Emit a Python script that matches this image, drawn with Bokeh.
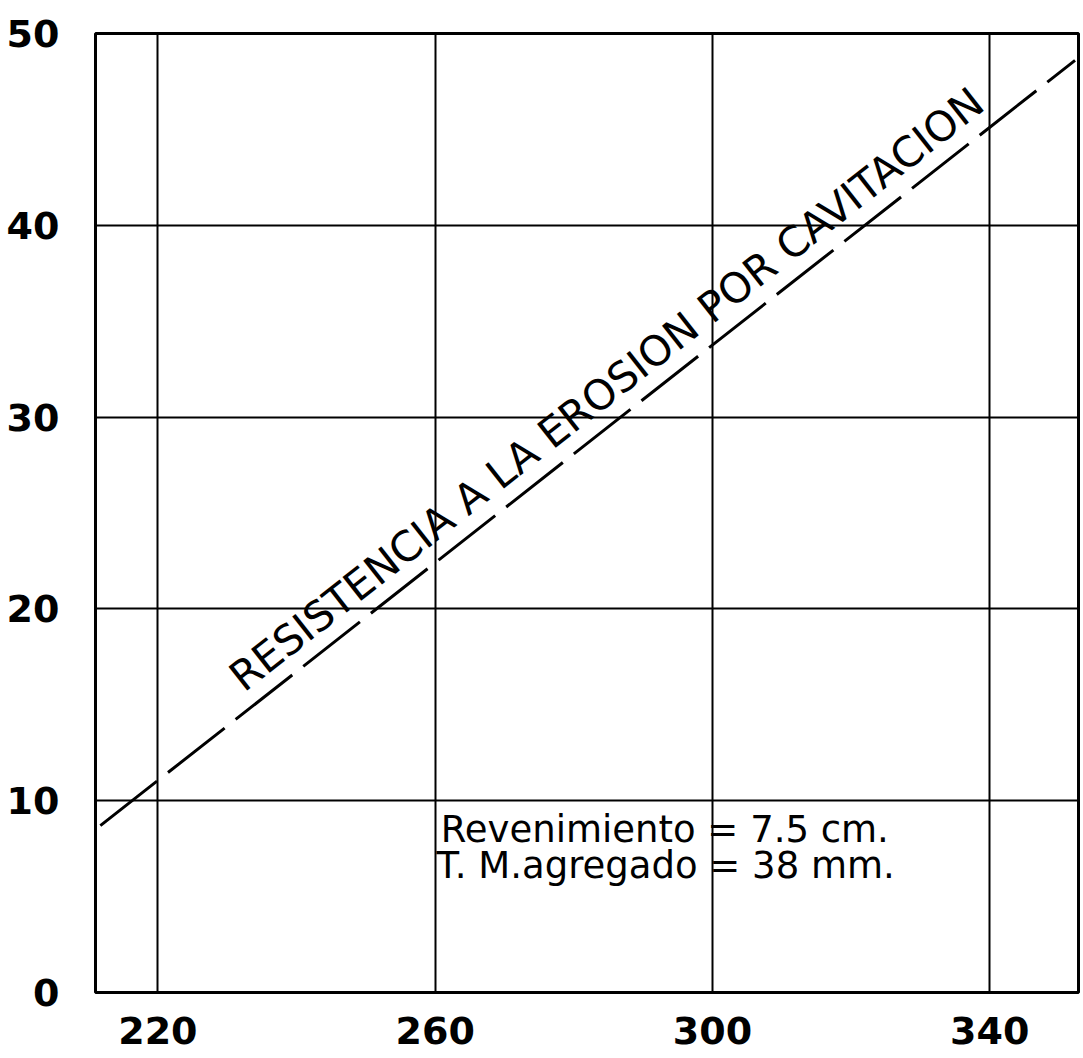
from bokeh.plotting import figure
from bokeh.models import FixedTicker, Range1d
from bokeh.embed import file_html
from bokeh.resources import INLINE
from bokeh.core.properties import value

# data
x_ticks = [220, 260, 300, 340]
y_ticks = [0, 10, 20, 30, 40, 50]
line_x = [211.7, 352.3]
line_y = [8.7, 48.6]
curve_label = "RESISTENCIA A LA EROSION POR CAVITACION"
label_x = [233.3]
label_y = [15.2]
note_lines = ["Revenimiento = 7.5 cm.", "T. M.agregado = 38 mm."]
note_x = [260.8, 260.2]
note_y = [8.5, 6.6]

FONT = "DejaVu Sans"

p = figure(width=1081, height=1053, output_backend="svg", toolbar_location=None,
           x_range=Range1d(211, 352.8), y_range=Range1d(0, 50),
           min_border_left=95, min_border_top=33, min_border_right=3, min_border_bottom=61)
p.background_fill_color = "white"
p.border_fill_color = "white"
p.outline_line_color = "black"
p.outline_line_width = 3

for ax in (p.xaxis[0], p.yaxis[0]):
    ax.axis_line_color = None
    ax.major_tick_line_color = None
    ax.minor_tick_line_color = None
    ax.major_label_text_font = FONT
    ax.major_label_text_font_size = "38px"
    ax.major_label_text_font_style = "bold"
    ax.major_label_text_color = "black"
p.xaxis[0].ticker = FixedTicker(ticks=x_ticks)
p.yaxis[0].ticker = FixedTicker(ticks=y_ticks)
p.xaxis[0].major_label_standoff = 18
p.yaxis[0].major_label_standoff = 30

p.xgrid[0].ticker = FixedTicker(ticks=x_ticks)
p.ygrid[0].ticker = FixedTicker(ticks=y_ticks)
for g in (p.xgrid[0], p.ygrid[0]):
    g.grid_line_color = "black"
    g.grid_line_width = 2
    g.grid_line_alpha = 1.0

p.line(line_x, line_y, line_color="black", line_width=3, line_dash="72 14")

p.text(x=label_x, y=label_y, text=[curve_label], angle=38.2, angle_units="deg",
       text_font=value(FONT), text_font_size="41.5px", text_color="black",
       text_align="left", text_baseline="bottom")

p.text(x=note_x, y=note_y, text=note_lines,
       text_font=value(FONT), text_font_size="37px", text_color="black",
       text_align="left", text_baseline="middle")

open("out.html", "w").write(file_html(p, INLINE))
